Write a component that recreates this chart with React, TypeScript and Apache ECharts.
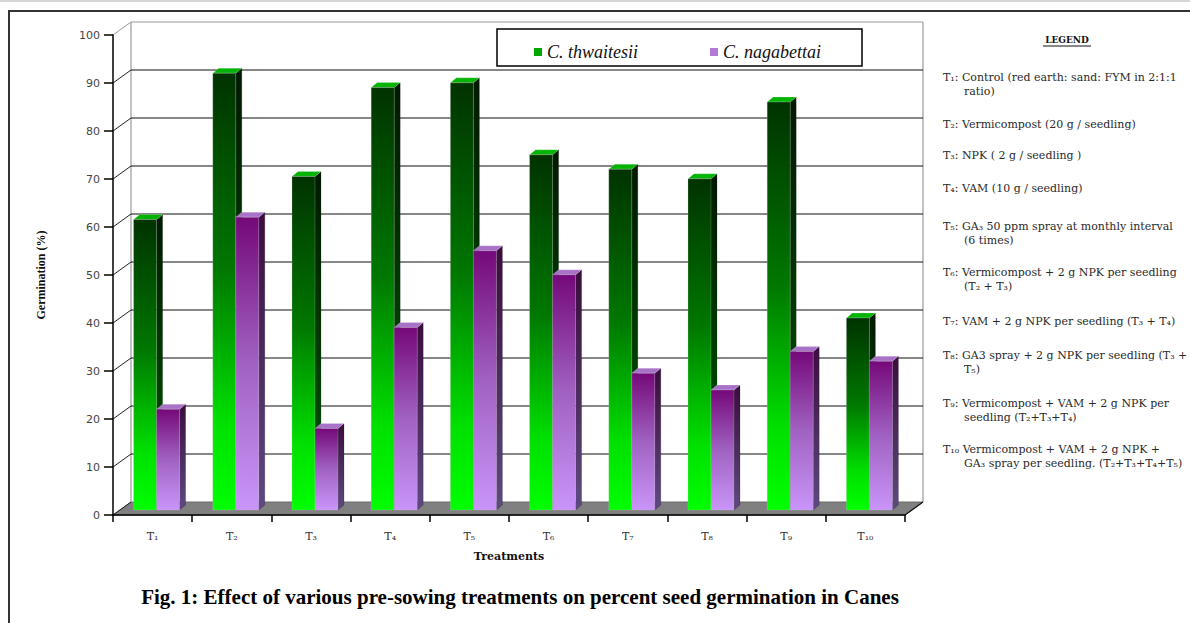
import React, { useEffect, useRef } from "react";
import * as echarts from "echarts";

const categories = ["T₁", "T₂", "T₃", "T₄", "T₅", "T₆", "T₇", "T₈", "T₉", "T₁₀"];
const thwaitesii = [60.5, 91, 69.5, 88, 89, 74, 71, 69, 85, 40];
const nagabettai = [21, 61, 17, 38, 54, 49, 28.5, 25, 33, 31];
const yTicks = [0, 10, 20, 30, 40, 50, 60, 70, 80, 90, 100];
const seriesNames = ["C. thwaitesii", "C. nagabettai"];

const notes = [
  ["T₁: Control (red earth: sand: FYM in 2:1:1", "ratio)"],
  ["T₂: Vermicompost (20 g / seedling)"],
  ["T₃: NPK ( 2 g / seedling )"],
  ["T₄: VAM (10 g / seedling)"],
  ["T₅: GA₃ 50 ppm spray at monthly interval", "(6 times)"],
  ["T₆: Vermicompost + 2 g NPK per seedling", "(T₂ + T₃)"],
  ["T₇: VAM + 2 g NPK per seedling (T₃ + T₄)"],
  ["T₈: GA3 spray + 2 g NPK per seedling (T₃ +", "T₅)"],
  ["T₉: Vermicompost + VAM + 2 g NPK per", "seedling (T₂+T₃+T₄)"],
  ["T₁₀ Vermicompost + VAM + 2 g NPK +", "GA₃ spray per seedling. (T₂+T₃+T₄+T₅)"],
];
const noteTops = [77, 124, 155, 188, 226, 272, 321, 355, 403, 449];

const caption = "Fig. 1: Effect of various pre-sowing treatments on percent seed germination in Canes";

// layout constants
const DX = 18;
const DY = -13;
const GRID = { left: 113, top: 35, width: 792, height: 480 };

const palettes = [
  {
    legend: "#00a800",
    front: [
      [0, "#003300"],
      [0.45, "#007800"],
      [0.8, "#00e000"],
      [1, "#00ff00"],
    ],
    side: [
      [0, "#001a00"],
      [1, "#005a00"],
    ],
    top: "#00b400",
  },
  {
    legend: "#b47ad8",
    front: [
      [0, "#75097a"],
      [0.5, "#a062c2"],
      [1, "#c995f8"],
    ],
    side: [
      [0, "#3a0d3c"],
      [1, "#5e4a80"],
    ],
    top: "#a772c8",
  },
];

function grad(stops: any[]) {
  return new echarts.graphic.LinearGradient(
    0,
    0,
    0,
    1,
    stops.map((s) => ({ offset: s[0], color: s[1] }))
  );
}

function makeBarRender(sIdx: number) {
  const pal = palettes[sIdx];
  return (params: any, api: any) => {
    const i = api.value(0);
    const v = api.value(1);
    const top = api.coord([i, v]);
    const base = api.coord([i, 0]);
    const bw = 23;
    const sx = 6;
    const sy = -5;
    const x = top[0] + 4 - bw + sIdx * bw;
    const yTop = top[1] - 5;
    const yBot = base[1] - 5;
    return {
      type: "group",
      children: [
        {
          type: "polygon",
          shape: {
            points: [
              [x + bw, yTop],
              [x + bw + sx, yTop + sy],
              [x + bw + sx, yBot + sy],
              [x + bw, yBot],
            ],
          },
          style: { fill: grad(pal.side), stroke: "rgba(0,0,0,0.35)", lineWidth: 0.5 },
        },
        {
          type: "polygon",
          shape: {
            points: [
              [x, yTop],
              [x + sx, yTop + sy],
              [x + bw + sx, yTop + sy],
              [x + bw, yTop],
            ],
          },
          style: { fill: pal.top, stroke: "rgba(255,255,255,0.4)", lineWidth: 0.5 },
        },
        {
          type: "rect",
          shape: { x: x, y: yTop, width: bw, height: yBot - yTop },
          style: { fill: grad(pal.front), stroke: "rgba(200,200,200,0.5)", lineWidth: 0.5 },
        },
      ],
    };
  };
}

function wallRender(params: any, api: any) {
  const v = api.value(1);
  const cs = params.coordSys;
  const x0 = cs.x;
  const x1 = cs.x + cs.width;
  const y = api.coord([0, v])[1];
  const yTop = cs.y;
  const children: any[] = [];
  if (v === 0) {
    children.push({
      type: "polygon",
      shape: {
        points: [
          [x0, y],
          [x1, y],
          [x1 + DX, y + DY],
          [x0 + DX, y + DY],
        ],
      },
      style: { fill: "#808080", stroke: "#6a6a6a", lineWidth: 1 },
    });
    children.push({
      type: "line",
      shape: { x1: x0 + DX, y1: y + DY, x2: x0 + DX, y2: yTop + DY },
      style: { stroke: "#9a9a9a", lineWidth: 1.2 },
    });
    children.push({
      type: "line",
      shape: { x1: x1 + DX, y1: y + DY, x2: x1 + DX, y2: yTop + DY },
      style: { stroke: "#9a9a9a", lineWidth: 1.2 },
    });
    children.push({
      type: "line",
      shape: { x1: x1, y1: y, x2: x1 + DX, y2: y + DY },
      style: { stroke: "#111", lineWidth: 1.2 },
    });
  } else {
    children.push({
      type: "polyline",
      shape: {
        points: [
          [x0 + DX, y + DY],
          [x1 + DX, y + DY],
        ],
      },
      style: { stroke: v === 100 ? "#9a9a9a" : "#111", lineWidth: 1.2, fill: "none" },
    });
  }
  children.push({
    type: "line",
    shape: { x1: x0, y1: y, x2: x0 + DX, y2: y + DY },
    style: { stroke: v === 100 ? "#9a9a9a" : "#222", lineWidth: 1 },
  });
  return { type: "group", children };
}

export default function App() {
  const ref = useRef<HTMLDivElement>(null);
  useEffect(() => {
    if (!ref.current) return;
    const chart = echarts.init(ref.current, null, { renderer: "svg" });
    const noteGraphics: any[] = [];
    notes.forEach((lines, k) => {
      lines.forEach((line, j) => {
        noteGraphics.push({
          type: "text",
          x: j === 0 ? 943 : 964,
          y: noteTops[k] + j * 14,
          z: 20,
          style: {
            text: line,
            fill: "#2a2a2a",
            font: "11px 'DejaVu Serif'",
            textVerticalAlign: "middle",
            textAlign: "left",
          },
        });
      });
    });
    chart.setOption({
      animation: false,
      backgroundColor: "#ffffff",
      grid: { ...GRID, containLabel: false },
      legend: {
        data: seriesNames,
        left: 529,
        top: 38,
        z: 30,
        icon: "rect",
        itemWidth: 8,
        itemHeight: 8,
        itemGap: 72,
        textStyle: {
          fontFamily: "'Liberation Serif'",
          fontStyle: "italic",
          fontSize: 18,
          color: "#111",
        },
      },
      xAxis: {
        type: "category",
        data: categories,
        z: 6,
        axisLine: { show: true, lineStyle: { color: "#000", width: 1.5 } },
        axisTick: { show: true, length: 7, lineStyle: { color: "#000", width: 1.5 } },
        axisLabel: {
          margin: 16,
          fontFamily: "'DejaVu Serif'",
          fontSize: 11,
          color: "#333",
        },
        splitLine: { show: false },
        name: "Treatments",
        nameLocation: "middle",
        nameGap: 36,
        nameTextStyle: {
          fontFamily: "'DejaVu Serif'",
          fontWeight: "bold",
          fontSize: 11,
          color: "#111",
        },
      },
      yAxis: {
        type: "value",
        min: 0,
        max: 100,
        interval: 10,
        z: 6,
        axisLine: { show: true, lineStyle: { color: "#000", width: 1.5 } },
        axisTick: { show: true, length: 9, lineStyle: { color: "#000", width: 1.5 } },
        axisLabel: {
          margin: 13,
          fontFamily: "'DejaVu Sans'",
          fontSize: 11,
          color: "#444",
        },
        splitLine: { show: false },
        name: "Germination (%)",
        nameLocation: "middle",
        nameGap: 66,
        nameRotate: 90,
        nameTextStyle: {
          fontFamily: "'Liberation Serif'",
          fontWeight: "bold",
          fontSize: 12,
          color: "#111",
        },
      },
      series: [
        {
          type: "custom",
          name: "wall",
          silent: true,
          clip: false,
          encode: { x: 0, y: 1 },
          data: yTicks.map((v) => [0, v]),
          renderItem: wallRender,
          z: 1,
        },
        {
          type: "custom",
          name: seriesNames[0],
          clip: false,
          encode: { x: 0, y: 1 },
          itemStyle: { color: palettes[0].legend },
          data: thwaitesii.map((v, i) => [i, v]),
          renderItem: makeBarRender(0),
          z: 2,
        },
        {
          type: "custom",
          name: seriesNames[1],
          clip: false,
          encode: { x: 0, y: 1 },
          itemStyle: { color: palettes[1].legend },
          data: nagabettai.map((v, i) => [i, v]),
          renderItem: makeBarRender(1),
          z: 3,
        },
      ],
      graphic: [
        {
          type: "rect",
          z: 0,
          shape: { x: 0, y: 0, width: 1190, height: 2 },
          style: { fill: "#d6d6d6" },
        },
        {
          type: "rect",
          z: 0,
          shape: { x: 9, y: 11, width: 1200, height: 700 },
          style: { fill: "none", stroke: "#333", lineWidth: 2 },
        },
        {
          type: "rect",
          z: 25,
          shape: { x: 497, y: 29, width: 365, height: 37 },
          style: { fill: "#fff", stroke: "#000", lineWidth: 1.5 },
        },
        {
          type: "text",
          x: 1067,
          y: 40,
          z: 20,
          style: {
            text: "LEGEND",
            fill: "#111",
            font: "bold 9px 'DejaVu Serif'",
            textAlign: "center",
            textVerticalAlign: "middle",
          },
        },
        {
          type: "line",
          z: 20,
          shape: { x1: 1043, y1: 46, x2: 1091, y2: 46 },
          style: { stroke: "#111", lineWidth: 1 },
        },
        ...noteGraphics,
        {
          type: "text",
          x: 520,
          y: 597,
          z: 20,
          style: {
            text: caption,
            fill: "#000",
            font: "bold 21px 'Liberation Serif'",
            textAlign: "center",
            textVerticalAlign: "middle",
          },
        },
      ],
    });
    return () => chart.dispose();
  }, []);
  return (
    <div
      ref={ref}
      style={{ position: "fixed", left: 0, top: 0, width: 1190, height: 623, background: "#fff" }}
    />
  );
}
